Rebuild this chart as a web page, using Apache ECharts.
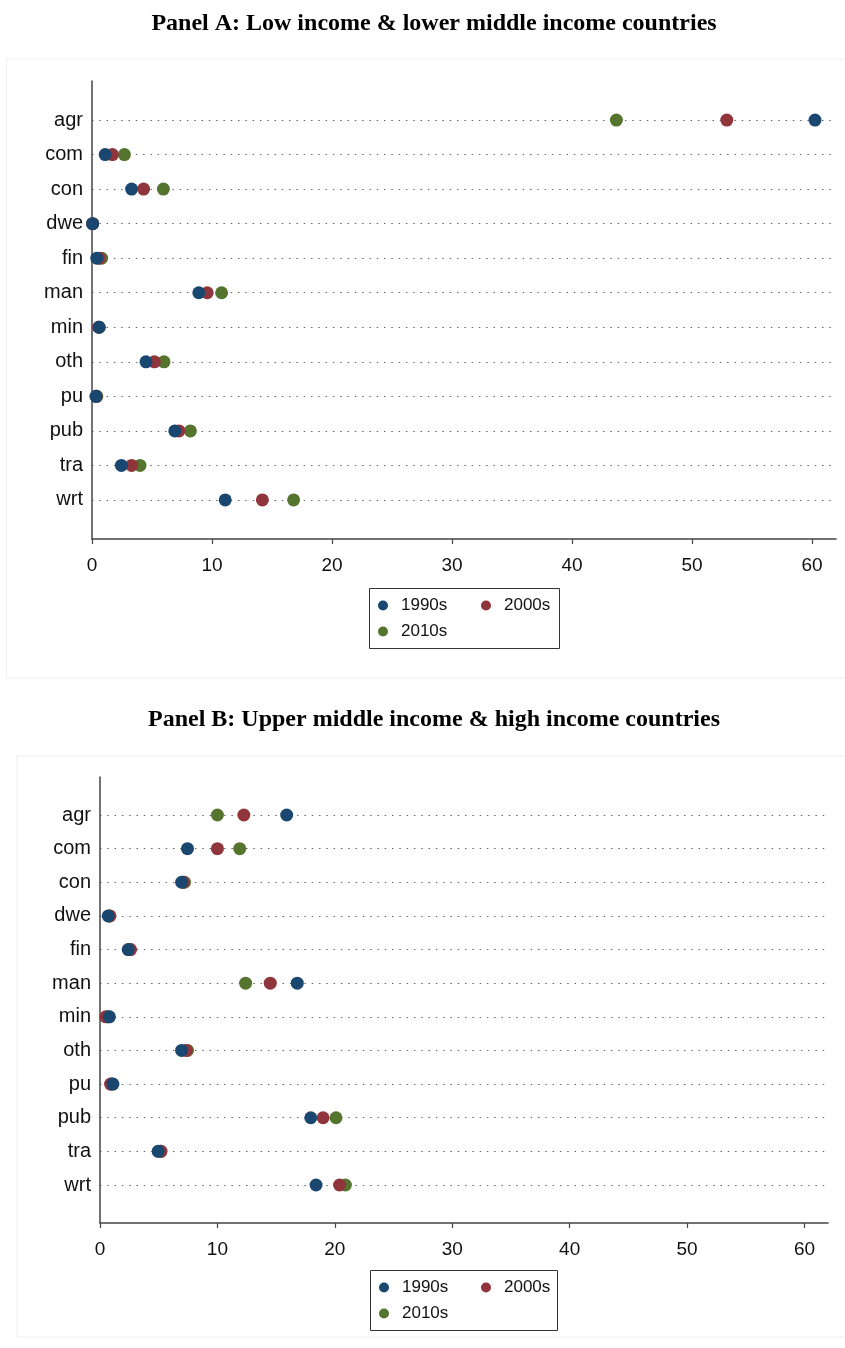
<!DOCTYPE html>
<html>
<head>
<meta charset="utf-8">
<script src="https://cdn.jsdelivr.net/npm/echarts@6/dist/echarts.min.js"></script>
<style>
  html, body { margin: 0; padding: 0; background: #fff; }
  #chart { width: 845px; height: 1348px; }
</style>
</head>
<body>
<div id="chart"></div>
<script>
// sectors, top to bottom
var categories = ['agr', 'com', 'con', 'dwe', 'fin', 'man', 'min', 'oth', 'pu', 'pub', 'tra', 'wrt'];
var decades = ['1990s', '2000s', '2010s'];
var xTicks = [0, 10, 20, 30, 40, 50, 60];

// Panel A: low income & lower middle income
var lowA1990 = [60.25, 1.1, 3.3, 0.05, 0.4, 8.9, 0.6, 4.5, 0.33, 6.9, 2.45, 11.1];
var lowA2000 = [52.9, 1.7, 4.3, 0.05, 0.6, 9.6, 0.55, 5.2, 0.35, 7.25, 3.3, 14.2];
var lowA2010 = [43.7, 2.7, 5.95, 0.05, 0.8, 10.8, 0.6, 6.0, 0.4, 8.2, 4.0, 16.8];

// Panel B: upper middle income & high income
var highB1990 = [15.9, 7.45, 6.95, 0.7, 2.4, 16.8, 0.8, 6.95, 1.1, 17.95, 4.95, 18.4];
var highB2000 = [12.25, 10.0, 7.1, 0.85, 2.6, 14.5, 0.5, 7.35, 0.9, 19.0, 5.2, 20.4];
var highB2010 = [10.0, 11.9, 7.2, 0.8, 2.55, 12.4, 0.7, 7.45, 1.0, 20.1, 5.15, 20.9];

var colors = ['#1a476f', '#90353b', '#55752f'];
var sans = 'Liberation Sans, Arial, sans-serif';
var serif = 'Liberation Serif, Times New Roman, serif';

function toPoints(values) {
    return values.map(function (v, i) { return [v, i]; });
}

function makeX(gridIndex) {
    return {
        type: 'value',
        gridIndex: gridIndex,
        min: 0,
        max: 62,
        axisLine: { show: true, onZero: false, lineStyle: { color: '#444', width: 1.5 } },
        axisTick: { show: true, length: 5, customValues: xTicks, lineStyle: { color: '#444', width: 1.2 } },
        axisLabel: { customValues: xTicks, margin: 17, fontSize: 19, color: '#111', fontFamily: sans },
        splitLine: { show: false }
    };
}

function makeY(gridIndex) {
    var idx = categories.map(function (c, i) { return i; });
    return {
        type: 'value',
        gridIndex: gridIndex,
        inverse: true,
        min: -1.13,
        max: 12.13,
        axisLine: { show: true, onZero: false, lineStyle: { color: '#444', width: 1.5 } },
        axisTick: { show: false, customValues: idx },
        axisLabel: {
            customValues: idx,
            margin: 9,
            fontSize: 20,
            color: '#111',
            fontFamily: sans,
            formatter: function (v) { return categories[Math.round(v)] || ''; }
        },
        splitLine: { show: true, lineStyle: { color: '#666', width: 1.2, type: [1.5, 5.8] } }
    };
}

// legend is laid out as two columns: (1990s, 2010s) and (2000s)
function makeLegend(names, left, top) {
    return {
        data: names,
        left: left,
        top: top,
        orient: 'vertical',
        icon: 'circle',
        itemWidth: 10,
        itemHeight: 10,
        itemGap: 9,
        padding: 0,
        textStyle: { fontSize: 17, color: '#111', fontFamily: sans, padding: [0, 0, 0, 8] }
    };
}

function makeSeries(gridIndex, sets) {
    return sets.map(function (vals, k) {
        return {
            name: decades[k],
            type: 'scatter',
            xAxisIndex: gridIndex,
            yAxisIndex: gridIndex,
            symbol: 'circle',
            symbolSize: 13,
            z: 5 - k,
            itemStyle: { color: colors[k], opacity: 1 },
            data: toPoints(vals)
        };
    });
}

function legendBox(x, y, w, h) {
    return { type: 'rect', shape: { x: x, y: y, width: w, height: h }, style: { fill: '#fff', stroke: '#333', lineWidth: 1 }, z: 0 };
}

var chart = echarts.init(document.getElementById('chart'));
var option = {
    backgroundColor: '#fff',
    animation: false,
    color: colors,
    title: [
        { text: 'Panel A: Low income & lower middle income countries', left: 434, top: 12, textAlign: 'center', padding: 0,
          textStyle: { fontFamily: serif, fontWeight: 'bold', fontSize: 24, color: '#000' } },
        { text: 'Panel B: Upper middle income & high income countries', left: 434, top: 708, textAlign: 'center', padding: 0,
          textStyle: { fontFamily: serif, fontWeight: 'bold', fontSize: 24, color: '#000' } }
    ],
    graphic: [
        { type: 'rect', shape: { x: 6.5, y: 59, width: 850, height: 619 }, style: { fill: 'none', stroke: '#efefef', lineWidth: 1 }, z: -1 },
        { type: 'rect', shape: { x: 17, y: 756, width: 840, height: 581 }, style: { fill: 'none', stroke: '#efefef', lineWidth: 1 }, z: -1 },
        legendBox(369.5, 588.5, 190, 60),
        legendBox(370.5, 1270.5, 187, 60)
    ],
    grid: [
        { left: 92, right: 9, top: 81, bottom: 1348 - 539 },
        { left: 100, right: 17, top: 777, bottom: 1348 - 1223 }
    ],
    xAxis: [makeX(0), makeX(1)],
    yAxis: [makeY(0), makeY(1)],
    legend: [
        makeLegend(['1990s', '2010s'], 378, 597),
        makeLegend(['2000s'], 481, 597),
        makeLegend(['1990s', '2010s'], 379, 1279),
        makeLegend(['2000s'], 481, 1279)
    ],
    series: makeSeries(0, [lowA1990, lowA2000, lowA2010]).concat(makeSeries(1, [highB1990, highB2000, highB2010]))
};
chart.setOption(option);
</script>
</body>
</html>
